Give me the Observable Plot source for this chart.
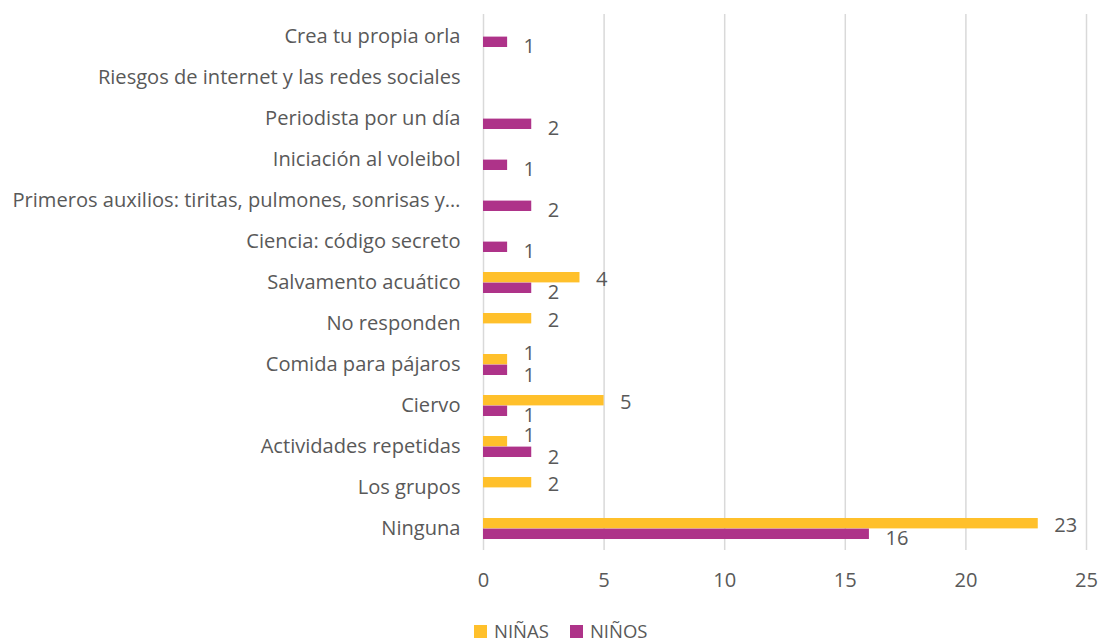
<!DOCTYPE html>
<html>
<head>
<meta charset="utf-8">
<script src="https://cdn.jsdelivr.net/npm/d3@7"></script>
<script src="https://cdn.jsdelivr.net/npm/@observablehq/plot@0.6"></script>
<style>
  html, body { margin: 0; padding: 0; background: #fff; }
  body { width: 1100px; height: 644px; overflow: hidden; font-family: "Open Sans", sans-serif; }
  #legend { display: flex; align-items: center; padding-left: 474px; margin-top: 6px; height: 18px; line-height: 18px; font-size: 18.5px; color: #595959; }
  #legend .item { display: flex; align-items: center; margin-right: 21px; }
  #legend .sw { width: 13px; height: 13px; margin-right: 7px; }
</style>
</head>
<body>
<div id="chart"></div>
<div id="legend"></div>
<script>
const categories = [
  "Crea tu propia orla",
  "Riesgos de internet y las redes sociales",
  "Periodista por un día",
  "Iniciación al voleibol",
  "Primeros auxilios: tiritas, pulmones, sonrisas y…",
  "Ciencia: código secreto",
  "Salvamento acuático",
  "No responden",
  "Comida para pájaros",
  "Ciervo",
  "Actividades repetidas",
  "Los grupos",
  "Ninguna"
];
const ninas = [null, null, null, null, null, null, 4, 2, 1, 5, 1, 2, 23];
const ninos = [1, null, 2, 1, 2, 1, 2, null, 1, 1, 2, null, 16];
const seriesNames = ["NIÑAS", "NIÑOS"];
const seriesColors = ["#FFC02B", "#AE3389"];
const xTicks = [0, 5, 10, 15, 20, 25];

const rowsNinas = categories.map((c, i) => ({cat: c, value: ninas[i], other: ninos[i]})).filter(d => d.value != null);
const rowsNinos = categories.map((c, i) => ({cat: c, value: ninos[i], other: ninas[i]})).filter(d => d.value != null);
const close = d => d.other != null && Math.abs(d.other - d.value) <= 1;

const font = "'Open Sans', sans-serif";
const textColor = "#595959";
const fs = 20.1;

const chart = Plot.plot({
  width: 1100,
  height: 616,
  marginLeft: 483,
  marginRight: 14,
  marginTop: 14,
  marginBottom: 66,
  style: {fontFamily: font, fontSize: fs + "px", color: textColor, background: "#fff"},
  x: {domain: [0, 25], label: null},
  y: {domain: categories, padding: 0, label: null},
  marks: [
    Plot.gridX(xTicks, {stroke: "#d9d9d9", strokeOpacity: 1, strokeWidth: 1.5}),
    Plot.barX(rowsNinas, {x: "value", y: "cat", fill: seriesColors[0], insetTop: 10, insetBottom: 20.6}),
    Plot.barX(rowsNinos, {x: "value", y: "cat", fill: seriesColors[1], insetTop: 20.6, insetBottom: 10}),
    Plot.text(rowsNinas.filter(d => !close(d)), {x: "value", y: "cat", text: d => String(d.value), dx: 16, dy: -3, textAnchor: "start", fill: textColor, fontSize: fs}),
    Plot.text(rowsNinas.filter(d => close(d)), {x: "value", y: "cat", text: d => String(d.value), dx: 16, dy: -11.5, textAnchor: "start", fill: textColor, fontSize: fs}),
    Plot.text(rowsNinos.filter(d => !close(d)), {x: "value", y: "cat", text: d => String(d.value), dx: 16, dy: 9.5, textAnchor: "start", fill: textColor, fontSize: fs}),
    Plot.text(rowsNinos.filter(d => close(d)), {x: "value", y: "cat", text: d => String(d.value), dx: 16, dy: 11, textAnchor: "start", fill: textColor, fontSize: fs}),
    Plot.axisX(xTicks, {tickSize: 0, tickPadding: 22, fontSize: fs, fill: textColor, label: null}),
    Plot.axisY({tickSize: 0, tickPadding: 23, fontSize: fs, fill: textColor, label: null})
  ]
});
document.getElementById("chart").appendChild(chart);

const legend = document.getElementById("legend");
seriesNames.forEach((name, i) => {
  const item = document.createElement("div");
  item.className = "item";
  const sw = document.createElement("div");
  sw.className = "sw";
  sw.style.background = seriesColors[i];
  const label = document.createElement("span");
  label.textContent = name;
  item.appendChild(sw);
  item.appendChild(label);
  legend.appendChild(item);
});
</script>
</body>
</html>
